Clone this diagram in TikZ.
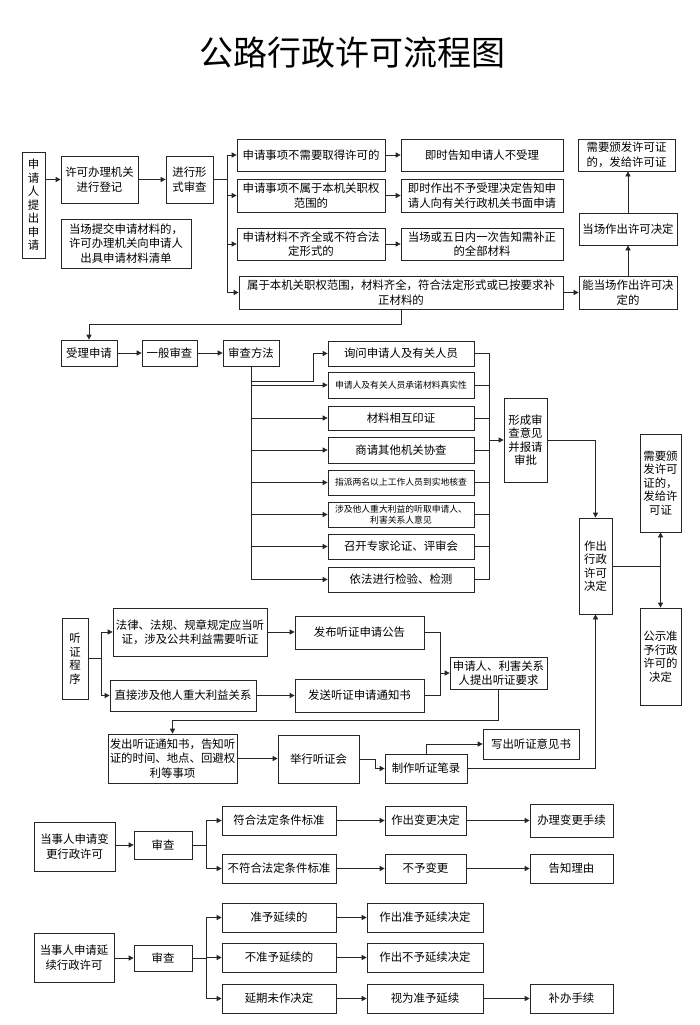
\documentclass[tikz,border=0pt]{standalone}
\usepackage{fontspec}
\setmainfont{Noto Sans CJK SC}
\usetikzlibrary{arrows.meta,calc}
\tikzset{
 box/.style={draw=black!85, line width=0.7pt, inner sep=1pt, align=center, font=\fontsize{11.4}{14.5}\selectfont},
 sm/.style={font=\fontsize{8.8}{11}\selectfont},
 vt/.style={font=\fontsize{11.4}{13.5}\selectfont},
 ln/.style={draw=black!85, line width=0.7pt},
 arr/.style={ln, -{Triangle[length=5pt,width=5pt]}},
}
\newcommand{\mybox}[7][]{\node[box,#1,minimum width={(#5-#3)*1pt},minimum height={(#6-#4)*1pt}] (#2) at ({(#3+#5)/2},{(#4+#6)/2}) {#7};}
\begin{document}
\begin{tikzpicture}[x=1pt,y=-1pt]
\useasboundingbox (0,0) rectangle (700,1025);
\fill[white] (0,0) rectangle (700,1025);
\node[font=\fontsize{34}{40}\selectfont] (title) at (352,53) {公路行政许可流程图};

% ---------- top section
\mybox[vt]{sq}{22}{152}{45}{258}{申\\请\\人\\提\\出\\申\\请}
\mybox{dj}{61}{156}{138}{203}{许可办理机关\\进行登记}
\mybox{xs}{166}{156}{213}{203}{进行形\\式审查}
\mybox{qd}{61}{219}{191}{268}{当场提交申请材料的，\\许可办理机关向申请人\\出具申请材料清单}
\mybox{r1}{237}{139}{385}{171}{申请事项不需要取得许可的}
\mybox{r2}{237}{179}{385}{212}{申请事项不属于本机关职权\\范围的}
\mybox{r3}{237}{228}{385}{260}{申请材料不齐全或不符合法\\定形式的}
\mybox{r4}{239}{276}{563}{309}{属于本机关职权范围，材料齐全，符合法定形式或已按要求补\\正材料的}
\mybox{s1}{401}{139}{563}{171}{即时告知申请人不受理}
\mybox{s2}{401}{179}{563}{212}{即时作出不予受理决定告知申\\请人向有关行政机关书面申请}
\mybox{s3}{401}{228}{563}{260}{当场或五日内一次告知需补正\\的全部材料}
\mybox{fz}{578}{139}{675}{171}{需要颁发许可证\\的，发给许可证}
\mybox{dc}{579}{213}{677}{245}{当场作出许可决定}
\mybox{nc}{579}{276}{677}{309}{能当场作出许可决\\定的}

\draw[arr] (sq.east |- dj.west) -- (dj.west);
\draw[arr] (dj.east) -- (xs.west);
\foreach \r in {r1,r2,r3,r4} \draw[arr] (xs.east) -- ++(14,0) |- (\r.west);
\draw[arr] (r1.east) -- (s1.west);
\draw[arr] (r2.east) -- (s2.west);
\draw[arr] (r3.east) -- (s3.west);
\draw[arr] (r4.east) -- (nc.west);
\draw[arr] (nc.north) -- (dc.south);
\draw[arr] (dc.north) -- (dc.north |- fz.south);

% ---------- review section
\mybox{sl}{61}{340}{117}{366}{受理申请}
\mybox{yb}{142}{340}{197}{366}{一般审查}
\mybox{fm}{223}{340}{279}{366}{审查方法}
\mybox{m1}{328}{341}{474}{366}{询问申请人及有关人员}
\mybox[sm]{m2}{328}{372}{474}{398}{申请人及有关人员承诺材料真实性}
\mybox{m3}{328}{406}{474}{430}{材料相互印证}
\mybox{m4}{328}{437}{474}{463}{商请其他机关协查}
\mybox[sm]{m5}{328}{470}{474}{495}{指派两名以上工作人员到实地核查}
\mybox[sm]{m6}{328}{502}{474}{527}{涉及他人重大利益的听取申请人、\\利害关系人意见}
\mybox{m7}{328}{534}{474}{559}{召开专家论证、评审会}
\mybox{m8}{328}{567}{474}{592}{依法进行检验、检测}
\mybox[vt]{xc}{504}{398}{547}{482}{形成审\\查意见\\并报请\\审批}
\mybox[vt]{zc}{579}{518}{612}{614}{作出\\行政\\许可\\决定}
\mybox[vt]{fz2}{640}{434}{681}{532}{需要颁\\发许可\\证的，\\发给许\\可证}
\mybox[vt]{gs}{640}{608}{681}{705}{公示准\\予行政\\许可的\\决定}

\draw[arr] (r4.south) -- ++(0,15) -| (sl.north);
\draw[arr] (sl.east) -- (yb.west);
\draw[arr] (yb.east) -- (fm.west);
\coordinate (q1) at (313,381);
\draw[arr] (fm.south) |- (m8.west);
\draw[arr] (fm.south |- q1) -- (q1) |- (m1.west);
\foreach \m in {m2,m3,m4,m5,m6,m7} \draw[arr] (fm.south |- \m.west) -- (\m.west);
\coordinate (rb) at (489,440);
\draw[ln] (m1.east) -| (rb);
\draw[ln] (m8.east) -| (rb);
\foreach \m in {m2,m3,m4,m5,m6,m7} \draw[ln] (\m.east) -- (\m.east -| rb);
\draw[arr] (rb) -- (xc.west);
\draw[arr] (xc.east) -| (zc.north);
\draw[arr] (zc.east) -| (fz2.south);
\draw[arr] (zc.east) -| (gs.north);

% ---------- hearing section
\mybox[vt]{tz}{62}{618}{88}{699}{听\\证\\程\\序}
\mybox{h1}{113}{608}{267}{656}{法律、法规、规章规定应当听\\证，涉及公共利益需要听证}
\mybox{h2}{110}{680}{256}{711}{直接涉及他人重大利益关系}
\mybox{p1}{295}{616}{424}{649}{发布听证申请公告}
\mybox{p2}{295}{679}{424}{712}{发送听证申请通知书}
\mybox{rq}{450}{657}{547}{689}{申请人、利害关系\\人提出听证要求}
\mybox{tn}{108}{734}{237}{783}{发出听证通知书，告知听\\证的时间、地点、回避权\\利等事项}
\mybox{jx}{278}{735}{359}{783}{举行听证会}
\mybox{bl}{385}{754}{467}{783}{制作听证笔录}
\mybox{yj}{483}{729}{579}{759}{写出听证意见书}

\draw[arr] (tz.east) -- ++(13,0) |- (h1.west);
\draw[arr] (tz.east) -- ++(13,0) |- (h2.west);
\draw[arr] (h1.east) -- (h1.east -| p1.west);
\draw[arr] (h2.east) -- (p2.west);
\coordinate (jb) at (440,673);
\draw[ln] (p1.east) -| (jb);
\draw[ln] (p2.east) -| (jb);
\draw[arr] (jb) -- (rq.west);
\draw[arr] (rq.south) -- ++(0,31) -| (tn.north);
\draw[arr] (tn.east) -- (tn.east -| jx.west);
\draw[arr] (jx.east) -- ++(16,0) |- (bl.west);
\draw[arr] (bl.north) |- (yj.west);
\draw[arr] (bl.east) -| (zc.south);

% ---------- change section
\mybox{c0}{34}{822}{115}{871}{当事人申请变\\更行政许可}
\mybox{c1}{134}{831}{192}{859}{审查}
\mybox{a1}{222}{806}{336}{835}{符合法定条件标准}
\mybox{a2}{222}{854}{336}{883}{不符合法定条件标准}
\mybox{b1}{385}{806}{466}{835}{作出变更决定}
\mybox{b2}{385}{854}{466}{883}{不予变更}
\mybox{d1}{530}{804}{613}{837}{办理变更手续}
\mybox{d2}{530}{854}{613}{883}{告知理由}

\draw[arr] (c0.east |- c1.west) -- (c1.west);
\draw[arr] (c1.east) -- ++(14,0) |- (a1.west);
\draw[arr] (c1.east) -- ++(14,0) |- (a2.west);
\draw[arr] (a1.east) -- (b1.west);
\draw[arr] (a2.east) -- (b2.west);
\draw[arr] (b1.east) -- (b1.east -| d1.west);
\draw[arr] (b2.east) -- (d2.west);

% ---------- extension section
\mybox{e0}{34}{933}{114}{982}{当事人申请延\\续行政许可}
\mybox{e1}{134}{945}{192}{971}{审查}
\mybox{f1}{222}{903}{336}{932}{准予延续的}
\mybox{f2}{222}{943}{336}{972}{不准予延续的}
\mybox{f3}{222}{984}{336}{1013}{延期未作决定}
\mybox{g1}{367}{903}{483}{932}{作出准予延续决定}
\mybox{g2}{367}{943}{483}{972}{作出不予延续决定}
\mybox{g3}{367}{984}{483}{1013}{视为准予延续}
\mybox{k3}{530}{984}{613}{1013}{补办手续}

\draw[arr] (e0.east |- e1.west) -- (e1.west);
\foreach \f in {f1,f2,f3} \draw[arr] (e1.east) -- ++(14,0) |- (\f.west);
\draw[arr] (f1.east) -- (g1.west);
\draw[arr] (f2.east) -- (g2.west);
\draw[arr] (f3.east) -- (g3.west);
\draw[arr] (g3.east) -- (k3.west);
\end{tikzpicture}
\end{document}
